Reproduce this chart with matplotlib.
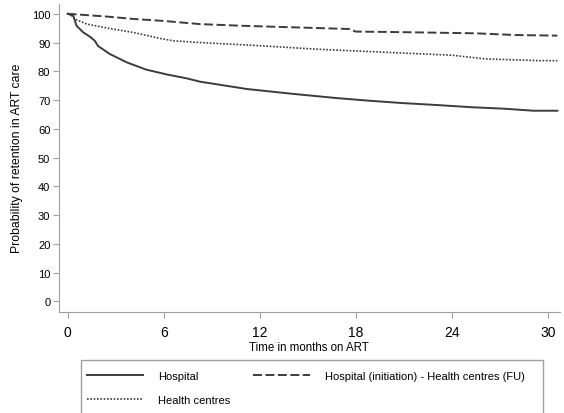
import matplotlib.pyplot as plt
from matplotlib.lines import Line2D
from matplotlib.patches import Rectangle

plt.rcParams['font.family'] = ['Liberation Sans', 'DejaVu Sans']

# months on ART and retention (%)
hosp_t = [0, 0.2, 0.35, 0.56, 0.98, 1.4, 1.7, 1.9, 2.64, 3.7, 4.9, 6.2, 7.4, 8.27,
          11.2, 14.0, 16.8, 18.8, 20.8, 23.0, 25.3, 27.3, 29.1, 30.6]
hosp_v = [100, 99.6, 99.3, 95.8, 93.5, 92.0, 90.6, 88.8, 86.0, 83.1, 80.6, 78.9, 77.6, 76.4,
          73.85, 72.2, 70.7, 69.8, 69.0, 68.3, 67.5, 67.0, 66.3, 66.3]

mixed_t = [0, 1.0, 2.5, 4.1, 6.0, 8.27, 11.0, 14.0, 17.6, 18.0, 21.0, 25.5, 28.0, 30.6]
mixed_v = [100, 99.6, 99.0, 98.2, 97.5, 96.4, 95.8, 95.3, 94.7, 93.8, 93.6, 93.2, 92.6, 92.4]

hc_t = [0, 0.2, 0.56, 1.2, 2.6, 4.1, 5.8, 6.6, 8.27, 12.0, 15.5, 19.9, 24.0, 26.1, 29.5, 30.6]
hc_v = [100, 99.5, 97.9, 96.4, 94.9, 93.5, 91.4, 90.6, 90.0, 88.9, 87.7, 86.6, 85.6, 84.3, 83.7, 83.7]

xticks = [0, 6, 12, 18, 24, 30]
yticks = list(range(0, 101, 10))

line_col = '#3c3c3c'
axis_col = '#a0a0a0'
dash = (0, (4.6, 1.8))
dots = (0, (1, 1))

fig = plt.figure(figsize=(5.64, 4.14), dpi=100)
ax = fig.add_axes([0.104, 0.245, 0.889, 0.743])

ax.plot(hosp_t, hosp_v, color=line_col, lw=1.4, ls='-')
ax.plot(mixed_t, mixed_v, color=line_col, lw=1.4, ls=dash)
ax.plot(hc_t, hc_v, color=line_col, lw=1.2, ls=dots)

ax.set_xlim(-0.56, 30.77)
ax.set_ylim(-3.5, 103.4)
ax.set_xticks(xticks)
ax.set_yticks(yticks)
ax.tick_params(axis='x', labelsize=10, color=axis_col, length=4, pad=6)
ax.tick_params(axis='y', labelsize=8, color=axis_col, length=4, pad=2)
for s in ['top', 'right']:
    ax.spines[s].set_visible(False)
for s in ['left', 'bottom']:
    ax.spines[s].set_color(axis_col)
ax.set_xlabel('Time in months on ART', fontsize=8.3, labelpad=1)
ax.set_ylabel('Probability of retention in ART care', fontsize=8.8, labelpad=6)

handles = [Line2D([], [], color=line_col, lw=1.4, ls='-'),
           Line2D([], [], color=line_col, lw=1.2, ls=dots),
           Line2D([], [], color=line_col, lw=1.4, ls=dash)]
labels = ['Hospital', 'Health centres', 'Hospital (initiation) - Health centres (FU)']
fig.legend(handles, labels, loc='upper left', ncol=2, fontsize=8,
           bbox_to_anchor=(86.7 / 564, 1 - 372 / 414), frameon=False,
           borderpad=0, borderaxespad=0, handlelength=5.1, handletextpad=1.3,
           labelspacing=1.25, columnspacing=2.1)
fig.add_artist(Rectangle((80.7 / 564, -0.1), (543 - 80.7) / 564, (414 - 361) / 414 + 0.1,
                         transform=fig.transFigure, fill=False, edgecolor=axis_col, lw=1.0))

fig.savefig('out.png', dpi=100)
